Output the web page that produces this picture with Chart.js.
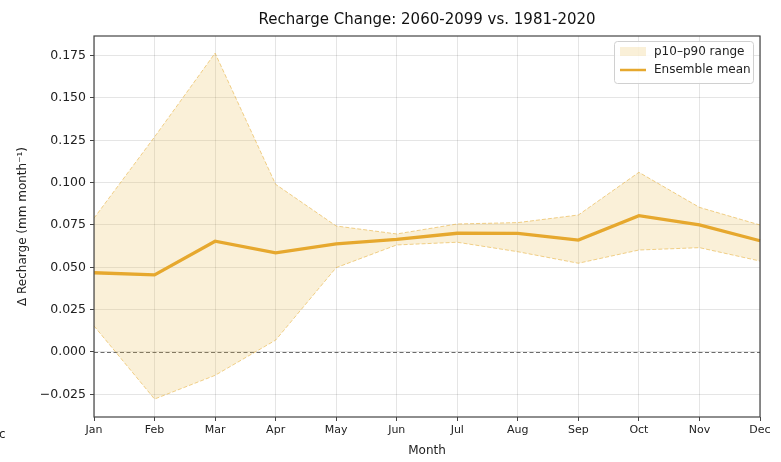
<!DOCTYPE html>
<html><head><meta charset="utf-8">
<script src="https://cdn.jsdelivr.net/npm/chart.js@4.4.1/dist/chart.umd.min.js"></script>
<style>html,body{margin:0;padding:0;background:#fff}#wrap{width:781px;height:462px;position:relative}</style>
</head><body><div id="wrap"><canvas id="c" width="781" height="462"></canvas></div>
<script>
const months = ['Jan','Feb','Mar','Apr','May','Jun','Jul','Aug','Sep','Oct','Nov','Dec'];
const p90 = [0.079, 0.127, 0.1765, 0.099, 0.0744, 0.0697, 0.0756, 0.0764, 0.0809, 0.1061, 0.0854, 0.075];
const p10 = [0.0154, -0.0278, -0.0138, 0.007, 0.0498, 0.0632, 0.0648, 0.0592, 0.0524, 0.0602, 0.0616, 0.0537];
const ensembleMean = [0.0468, 0.0455, 0.0654, 0.0585, 0.0638, 0.0665, 0.0701, 0.070, 0.0661, 0.0805, 0.075, 0.0657];
const yTicks = [-0.025, 0, 0.025, 0.05, 0.075, 0.1, 0.125, 0.15, 0.175];

const LINE = 'rgb(230,168,46)';
const FILL = 'rgba(228,182,62,0.2)';
const EDGE = 'rgba(230,172,50,0.55)';
const FONT = "'DejaVu Sans', sans-serif";

const decor = {
  id: 'decor',
  beforeDatasetsDraw(chart) {
    const {ctx, chartArea: a, scales: {y}} = chart;
    const py = y.getPixelForValue(0);
    ctx.save();
    ctx.strokeStyle = 'rgba(70,70,70,0.8)';
    ctx.lineWidth = 1;
    ctx.setLineDash([4, 2.5]);
    ctx.beginPath(); ctx.moveTo(a.left, Math.round(py)+0.5); ctx.lineTo(a.right, Math.round(py)+0.5); ctx.stroke();
    ctx.restore();
  },
  afterDraw(chart) {
    const {ctx, chartArea: a} = chart;
    ctx.save();
    ctx.strokeStyle = '#444';
    ctx.lineWidth = 1.2;
    ctx.strokeRect(a.left, a.top, a.right - a.left, a.bottom - a.top);
    // title
    ctx.fillStyle = '#111';
    ctx.font = '15px ' + FONT;
    ctx.textAlign = 'center'; ctx.textBaseline = 'middle';
    ctx.fillText('Recharge Change: 2060-2099 vs. 1981-2020', (a.left + a.right) / 2, 20);
    // stray label
    ctx.font = '12px ' + FONT;
    ctx.textAlign = 'left';
    ctx.fillStyle = '#222';
    ctx.fillText('c', -1, 435);
    // legend
    const lx = 614, ly = 41, lw = 139, lh = 42;
    ctx.fillStyle = 'rgba(255,255,255,0.85)';
    ctx.strokeStyle = '#d0d0d0';
    ctx.lineWidth = 1;
    ctx.beginPath();
    ctx.roundRect(lx + 0.5, ly + 0.5, lw, lh, 3);
    ctx.fill(); ctx.stroke();
    ctx.fillStyle = FILL;
    ctx.fillRect(lx + 6, ly + 6, 26, 9);
    ctx.strokeStyle = LINE; ctx.lineWidth = 2.5;
    ctx.beginPath(); ctx.moveTo(lx + 6, ly + 29); ctx.lineTo(lx + 32, ly + 29); ctx.stroke();
    ctx.fillStyle = '#222';
    ctx.font = '12px ' + FONT;
    ctx.textAlign = 'left'; ctx.textBaseline = 'middle';
    ctx.fillText('p10\u2013p90 range', lx + 40, ly + 11);
    ctx.fillText('Ensemble mean', lx + 40, ly + 29);
    ctx.restore();
  }
};

new Chart(document.getElementById('c'), {
  type: 'line',
  data: {
    labels: months,
    datasets: [
      {label: 'p90', data: p90, borderColor: EDGE, borderWidth: 1, borderDash: [4, 2],
       backgroundColor: FILL, fill: '+1', pointRadius: 0, tension: 0, order: 2},
      {label: 'p10', data: p10, borderColor: EDGE, borderWidth: 1, borderDash: [4, 2],
       backgroundColor: FILL, fill: false, pointRadius: 0, tension: 0, order: 2},
      {label: 'Ensemble mean', data: ensembleMean, borderColor: LINE, borderWidth: 3.3,
       fill: false, pointRadius: 0, tension: 0, order: 1}
    ]
  },
  options: {
    responsive: false, animation: false,
    layout: {padding: {top: 36, right: 21, left: 0, bottom: 0}},
    plugins: {legend: {display: false}, tooltip: {enabled: false}, title: {display: false}},
    scales: {
      x: {
        type: 'category', offset: false,
        grid: {color: 'rgba(0,0,0,0.1)', tickColor: '#444', tickLength: 4, drawTicks: true},
        border: {display: false},
        ticks: {color: '#222', font: {family: FONT, size: 11}, padding: 3, maxRotation: 0, autoSkip: false},
        title: {display: true, text: 'Month', color: '#222', font: {family: FONT, size: 12}, padding: {top: 0, bottom: 4}},
        afterFit(s) { s.height = 45; }
      },
      y: {
        min: -0.0384, max: 0.1866,
        afterBuildTicks(s) { s.ticks = yTicks.map(v => ({value: v})); },
        grid: {color: 'rgba(0,0,0,0.1)', tickColor: '#444', tickLength: 4},
        border: {display: false},
        ticks: {color: '#222', font: {family: FONT, size: 12.5}, padding: 4,
          callback: v => v.toFixed(3).replace('-', '\u2212')},
        title: {display: true, text: '\u0394 Recharge (mm month\u207B\u00B9)', color: '#222', font: {family: FONT, size: 12}, padding: {top: 16, bottom: 0}},
        afterFit(s) { s.width = 94; }
      }
    }
  },
  plugins: [decor]
});
</script></body></html>
